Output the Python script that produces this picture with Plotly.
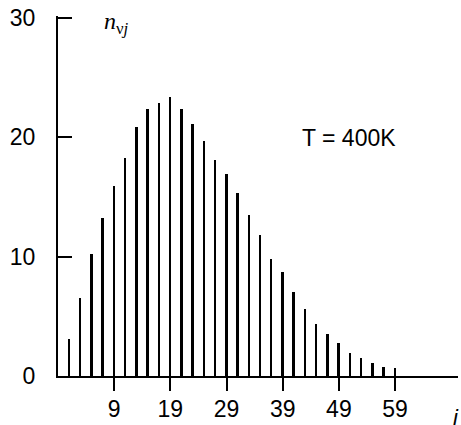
import plotly.graph_objects as go

# data
j_values = list(range(1, 60, 2))
n_values = [3.1, 6.5, 10.2, 13.2, 15.9, 18.3, 20.9, 22.4, 22.9, 23.4,
            22.4, 21.1, 19.7, 18.1, 16.9, 15.3, 13.5, 11.8, 9.8, 8.7,
            7.0, 5.6, 4.4, 3.5, 2.8, 1.9, 1.55, 1.1, 0.77, 0.66]
x_tick_vals = [9, 19, 29, 39, 49, 59]
y_tick_vals = [0, 10, 20, 30]

W, H = 461, 425
L, R, T, B = 58, 3, 16, 46

fig = go.Figure()
fig.add_trace(go.Bar(
    x=j_values, y=n_values, width=0.35,
    marker=dict(color="black", line=dict(width=0)),
    showlegend=False, hoverinfo="skip",
))

font = dict(family="Liberation Sans, Arial, sans-serif", size=23, color="black")

fig.update_layout(
    width=W, height=H,
    margin=dict(l=L, r=R, t=T, b=B, pad=0),
    paper_bgcolor="white", plot_bgcolor="white",
    bargap=0,
    font=font,
    xaxis=dict(
        range=[-1, 70.2], showgrid=False, zeroline=False,
        showline=True, linecolor="black", linewidth=2,
        ticks="outside", ticklen=13, tickwidth=2, tickcolor="black",
        tickvals=x_tick_vals, ticktext=[str(v) for v in x_tick_vals],
        tickfont=font, ticklabelstandoff=-2, ticklabeloverflow="allow",
    ),
    yaxis=dict(
        range=[0, 30.17], showgrid=False, zeroline=False,
        showline=True, linecolor="black", linewidth=2,
        ticks="inside", ticklen=14, tickwidth=2, tickcolor="black",
        tickvals=y_tick_vals, ticktext=[str(v) for v in y_tick_vals],
        tickfont=font, ticklabelstandoff=16, ticklabeloverflow="allow",
    ),
    annotations=[
        dict(text="T = 400K", x=0.7275, y=0.66, xref="paper", yref="paper",
             xanchor="center", yanchor="middle", showarrow=False, font=font),
        dict(text="<i>n</i><sub>ν<i>j</i></sub>", x=0.109, y=0.98,
             xref="paper", yref="paper", xanchor="left", yanchor="middle",
             showarrow=False,
             font=dict(family="Liberation Serif, Times New Roman, serif", size=24, color="black")),
        dict(text="<i>i</i>", x=0.995, y=-0.115, xref="paper", yref="paper",
             xanchor="center", yanchor="middle", showarrow=False,
             font=dict(family="Liberation Sans, Arial, sans-serif", size=22, color="black")),
    ],
)

fig.write_html(
    "out.html",
    config={"displayModeBar": False},
    post_script="document.body.style.margin='0';"
                "document.documentElement.style.overflow='hidden';",
)
